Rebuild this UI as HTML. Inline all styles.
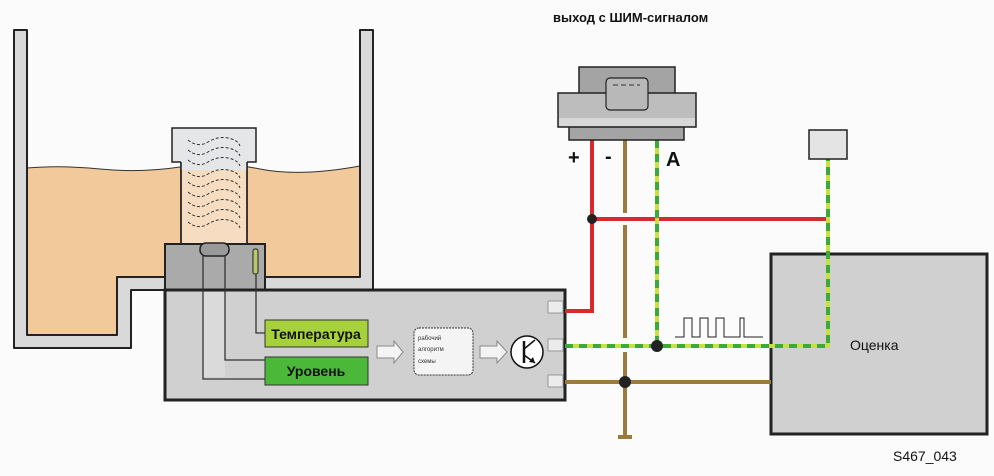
<!DOCTYPE html>
<html><head><meta charset="utf-8"><style>
html,body{margin:0;padding:0;background:#fbfbfb;}
svg{display:block;font-family:"Liberation Sans",sans-serif;}
</style></head><body>
<svg width="994" height="476" viewBox="0 0 994 476">
<rect width="994" height="476" fill="#fbfbfb"/>
<path d="M27 168 Q60 165 100 169 T180 167 T260 169 T360 166 L360 277 L117 277 L117 335 L27 335 Z" fill="#f2c99a"/>
<path d="M27 168 Q60 165 100 169 T180 167 T260 169 T360 166" fill="none" stroke="#333" stroke-width="1"/>
<path d="M14 30 L27 30 L27 335 L117 335 L117 277 L360 277 L360 30 L373 30 L373 290 L131 290 L131 348 L14 348 Z" fill="#d9d9d9" stroke="#222" stroke-width="2" stroke-linejoin="round"/>
<rect x="181" y="150" width="66" height="95" fill="#f6dcc0" stroke="#222" stroke-width="1.5"/>
<rect x="181" y="150" width="66" height="18" fill="#e4e6e8"/>
<rect x="172" y="128" width="84" height="34" fill="#e4e6e8" stroke="#222" stroke-width="1.5"/>
<rect x="181" y="160" width="66" height="10" fill="#e4e6e8"/>
<line x1="181" y1="162" x2="181" y2="245" stroke="#222" stroke-width="1.5"/>
<line x1="247" y1="162" x2="247" y2="245" stroke="#222" stroke-width="1.5"/>
<g fill="none" stroke="#333" stroke-width="1" stroke-dasharray="3,2">
<path d="M188 140 q10 8 20 2 t20 -4 t12 8"/>
<path d="M188 150 q10 8 20 2 t20 -4 t12 8"/>
<path d="M188 160 q10 8 20 2 t20 -4 t12 8"/>
<path d="M188 172 q10 8 20 2 t20 -4 t12 8"/>
<path d="M188 182 q10 8 20 2 t20 -4 t12 8"/>
<path d="M188 192 q10 8 20 2 t20 -4 t12 8"/>
<path d="M188 202 q10 8 20 2 t20 -4 t12 8"/>
<path d="M188 212 q10 8 20 2 t20 -4 t12 8"/>
<path d="M188 222 q10 8 20 2 t20 -4 t12 8"/>
</g>
<rect x="165" y="244" width="100" height="46" fill="#aaaaaa" stroke="#222" stroke-width="2"/>
<rect x="200" y="243" width="29" height="13" rx="6" fill="#999" stroke="#222" stroke-width="1.5"/>
<rect x="253" y="249" width="5" height="25" rx="2" fill="#b7c96a" stroke="#222" stroke-width="1"/>
<rect x="165" y="290" width="400" height="110" fill="#d0d0d0" stroke="#222" stroke-width="3"/>
<rect x="203" y="292" width="22" height="85" fill="#dadada"/>
<g fill="none" stroke="#333" stroke-width="1.3">
<path d="M203 255 V379 H265"/>
<path d="M225 255 V360 H265"/>
<path d="M256 274 V333 H265"/>
</g>
<rect x="265" y="320" width="103" height="27" fill="#a6d13a" stroke="#333" stroke-width="1"/>
<text x="316" y="339" font-size="14" font-weight="bold" text-anchor="middle" fill="#111">Температура</text>
<rect x="265" y="357" width="103" height="28" fill="#4cb83a" stroke="#333" stroke-width="1"/>
<text x="316" y="376" font-size="14" font-weight="bold" text-anchor="middle" fill="#111">Уровень</text>
<path d="M377 346 H394 V341 L403 352 L394 363 V358 H377 Z" fill="#f4f4f4" stroke="#888"/>
<rect x="414" y="328" width="59" height="47" rx="5" fill="#f4f4f4" stroke="#333" stroke-dasharray="2,1"/>
<text x="418" y="340" font-size="6" fill="#333">рабочий</text>
<text x="418" y="351" font-size="6" fill="#333">алгоритм</text>
<text x="418" y="363" font-size="6" fill="#333">схемы</text>
<path d="M480 346 H497 V341 L507 352 L497 363 V358 H480 Z" fill="#f4f4f4" stroke="#888"/>
<circle cx="527" cy="352" r="16" fill="#fff" stroke="#111" stroke-width="1.5"/>
<line x1="524" y1="341" x2="524" y2="363" stroke="#111" stroke-width="2.5"/>
<line x1="524" y1="349" x2="535" y2="340" stroke="#111" stroke-width="1.5"/>
<line x1="524" y1="355" x2="535" y2="363" stroke="#111" stroke-width="1.5"/>
<path d="M535 363 L529 362 L533 357 Z" fill="#111"/>
<rect x="548" y="301" width="15" height="12" fill="#ececec" stroke="#999"/>
<rect x="548" y="339" width="15" height="12" fill="#ececec" stroke="#999"/>
<rect x="548" y="375" width="15" height="12" fill="#ececec" stroke="#999"/>
<rect x="771" y="254" width="216" height="180" fill="#d0d0d0" stroke="#222" stroke-width="3"/>
<text x="850" y="350" font-size="14" fill="#111">Оценка</text>
<g fill="none" stroke-width="4">
<path d="M592 140 V311 H565" stroke="#d42c2c"/>
<path d="M592 219 H828" stroke="#d42c2c"/>
<path d="M625 140 V213 M625 225 V338 M625 352 V437" stroke="#9c7a3c"/>
<path d="M565 382 H771" stroke="#9c7a3c"/>
<path d="M618 437 H632" stroke="#9c7a3c"/>
<path d="M657 140 V346 M565 346 H828 V159" stroke="#c8e040"/>
<path d="M657 140 V346 M565 346 H828 V159" stroke="#3ea838" stroke-dasharray="8,6"/>
</g>
<circle cx="592" cy="219" r="5" fill="#222"/>
<circle cx="657" cy="346" r="6" fill="#222"/>
<circle cx="625" cy="382" r="6" fill="#222"/>
<rect x="809" y="130" width="38" height="29" fill="#e4e4e4" stroke="#222" stroke-width="1.5"/>
<path d="M675 337 H684 V318 H692 V337 H700 V318 H708 V337 H716 V318 H724 V337 H740 V318 H744 V337 H763" fill="none" stroke="#222" stroke-width="1"/>
<rect x="579" y="67" width="96" height="27" fill="#a4a4a4" stroke="#222" stroke-width="1.5"/>
<rect x="569" y="126" width="115" height="14" fill="#a4a4a4" stroke="#222" stroke-width="1.5"/>
<rect x="558" y="93" width="138" height="34" fill="#bdbdbd" stroke="#222" stroke-width="1.5"/>
<rect x="559" y="118" width="136" height="8" fill="#d8d8d8"/>
<rect x="606" y="78" width="42" height="32" rx="4" fill="#b8b8b8" stroke="#222" stroke-width="1.2"/>
<path d="M613 85 H640" stroke="#333" stroke-dasharray="5,3"/>
<text x="568" y="164" font-size="20" font-weight="bold" fill="#111">+</text>
<text x="605" y="163" font-size="20" font-weight="bold" fill="#111">-</text>
<text x="666" y="166" font-size="20" font-weight="bold" fill="#111">A</text>
<text x="553" y="22" font-size="13" font-weight="bold" fill="#111">выход с ШИМ-сигналом</text>
<text x="893" y="461" font-size="14" fill="#111">S467_043</text>
</svg>
</body></html>
